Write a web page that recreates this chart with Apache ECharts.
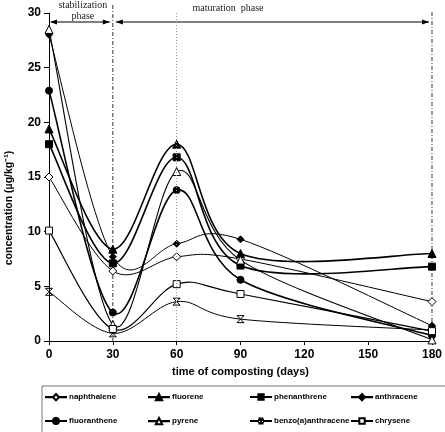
<!DOCTYPE html>
<html>
<head>
<meta charset="utf-8">
<script src="https://cdn.jsdelivr.net/npm/echarts@6/dist/echarts.min.js"></script>
<style>
  html, body { margin: 0; padding: 0; background: #fff; }
  #main { width: 445px; height: 432px; }
</style>
</head>
<body>
<div id="main"></div>
<script>
// days of composting and PAH concentrations (µg/kg)
var days = [0, 30, 60, 90, 180];
var naphthalene = [15.0, 6.4, 7.7, 7.5, 3.6];
var fluorene = [19.4, 8.4, 18.0, 8.0, 8.0];
var phenanthrene = [18.0, 7.1, 16.8, 6.9, 6.8];
var anthracene = [28.0, 7.7, 8.9, 9.3, 1.4];
var fluoranthene = [22.9, 2.6, 13.8, 5.6, 0.5];
var pyrene = [28.5, 1.5, 15.5, 7.4, 0.1];
var benzoAnthracene = [4.5, 0.7, 3.6, 2.0, 1.0];
var chrysene = [10.1, 1.1, 5.2, 4.3, 0.9];

var phaseBounds = [0, 30, 180];

var crossPath = 'path://M0,0 L10,10 M10,0 L0,10 M0,0 L10,0 M0,10 L10,10';

// legend icons: short line with the marker in the middle
var legLine = 'M0,3.9 L7,3.9 L7,4.1 L0,4.1 Z M13,3.9 L20,3.9 L20,4.1 L13,4.1 Z ';
var legIcon = {
    diamond: 'path://' + legLine + 'M10,0.8 L13,4 L10,7.2 L7,4 Z',
    triangle: 'path://' + legLine + 'M10,0.8 L13.2,7 L6.8,7 Z',
    rect: 'path://' + legLine + 'M7.3,1.3 L12.7,1.3 L12.7,6.7 L7.3,6.7 Z',
    circle: 'path://' + legLine + 'M7,4 A3,3 0 1 0 13,4 A3,3 0 1 0 7,4 Z',
    cross: 'path://' + legLine + 'M7.5,1.5 L12.5,6.5 M12.5,1.5 L7.5,6.5 M7.5,1.5 L12.5,1.5 M7.5,6.5 L12.5,6.5'
};

function pairs(vals) {
    var out = [];
    for (var i = 0; i < days.length; i++) out.push([days[i], vals[i]]);
    return out;
}

// spreadsheet-style smoothed line: one bezier piece per interval, through the axis scale
function curve(vals, width) {
    var pts = pairs(vals);
    return {
        type: 'custom',
        data: pts.slice(0, pts.length - 1),
        silent: true,
        z: 2,
        renderItem: function (params, api) {
            var i = params.dataIndex;
            var p = function (k) {
                k = Math.max(0, Math.min(pts.length - 1, k));
                return api.coord(pts[k]);
            };
            var p0 = p(i - 1), p1 = p(i), p2 = p(i + 1), p3 = p(i + 2);
            return {
                type: 'bezierCurve',
                shape: {
                    x1: p1[0], y1: p1[1],
                    cpx1: p1[0] + (p2[0] - p0[0]) / 6, cpy1: p1[1] + (p2[1] - p0[1]) / 6,
                    cpx2: p2[0] - (p3[0] - p1[0]) / 6, cpy2: p2[1] - (p3[1] - p1[1]) / 6,
                    x2: p2[0], y2: p2[1]
                },
                style: { stroke: '#000', lineWidth: width, fill: null }
            };
        }
    };
}

function marks(name, vals, symbol, size, filled) {
    return {
        name: name,
        type: 'scatter',
        data: pairs(vals),
        symbol: symbol,
        symbolSize: size,
        itemStyle: {
            color: filled ? '#000' : (symbol == crossPath ? 'rgba(0,0,0,0)' : '#fff'),
            borderColor: '#000',
            borderWidth: 1,
            opacity: 1
        },
        emphasis: { disabled: true },
        z: 3
    };
}

var specs = [
    ['naphthalene', naphthalene, 'diamond', 8, false, 1, 'diamond'],
    ['fluorene', fluorene, 'triangle', 8, true, 1.6, 'triangle'],
    ['phenanthrene', phenanthrene, 'rect', 7, true, 1.6, 'rect'],
    ['anthracene', anthracene, 'diamond', 7, true, 1, 'diamond'],
    ['fluoranthene', fluoranthene, 'circle', 7, true, 1.6, 'circle'],
    ['pyrene', pyrene, 'triangle', 8, false, 1.1, 'triangle'],
    ['benzo(a)anthracene', benzoAnthracene, crossPath, 7, false, 1, 'cross'],
    ['chrysene', chrysene, 'rect', 7, false, 1.2, 'rect']
];

var series = [];
specs.forEach(function (s) {
    series.push(curve(s[1], s[5]));
    series.push(marks(s[0], s[1], s[2], s[3], s[4]));
});

// dotted line at day 60
series.push({
    type: 'line',
    data: [],
    silent: true,
    markLine: {
        silent: true,
        symbol: ['none', 'none'],
        label: { show: false },
        animation: false,
        data: [
            { xAxis: 60, lineStyle: { color: '#999', type: [1, 2], width: 1 } }
        ]
    }
});

// legend: 2 rows x 4 columns
var legendCols = [45, 148, 250, 351];
var legendRows = [393, 417];
var legends = specs.map(function (s, i) {
    return {
        data: [{ name: s[0], icon: legIcon[s[6]] }],
        left: legendCols[i % 4],
        top: legendRows[Math.floor(i / 4)],
        padding: 0,
        itemWidth: 20, itemHeight: 8, itemGap: 0,
        selectedMode: false,
        textStyle: { fontFamily: 'Arial, Liberation Sans', fontSize: 8, fontWeight: 'bold', color: '#000', padding: [0, 0, 0, -2] }
    };
});

var myChart = echarts.init(document.getElementById('main'));
var option = {
    animation: false,
    backgroundColor: '#fff',
    grid: { left: 49, right: 13, top: 13, bottom: 91 },
    xAxis: {
        type: 'value',
        min: 0,
        max: 180,
        interval: 30,
        name: 'time of composting (days)',
        nameLocation: 'middle',
        nameGap: 25,
        nameTextStyle: { fontFamily: 'Arial, Liberation Sans', fontSize: 11, fontWeight: 'bold', color: '#000' },
        axisLine: { lineStyle: { color: '#000' } },
        axisTick: { show: true, length: 4, lineStyle: { color: '#000' } },
        axisLabel: { fontFamily: 'Arial, Liberation Sans', fontSize: 12, fontWeight: 'bold', color: '#000', margin: 8 },
        splitLine: { show: false }
    },
    yAxis: {
        type: 'value',
        min: 0,
        max: 30,
        interval: 5,
        axisLine: { show: true, lineStyle: { color: '#000' } },
        axisTick: { show: true, length: 5, lineStyle: { color: '#000' } },
        axisLabel: { fontFamily: 'Arial, Liberation Sans', fontSize: 12, fontWeight: 'bold', color: '#000', margin: 8 },
        splitLine: { show: false }
    },
    legend: legends,
    series: series
};
myChart.setOption(option);

// annotations placed through the chart's own scale
var topY = myChart.convertToPixel({ gridIndex: 0 }, [0, 30])[1];
var botY = myChart.convertToPixel({ gridIndex: 0 }, [0, 0])[1];
var arrowY = topY + 9;
var px = phaseBounds.map(function (d) { return myChart.convertToPixel({ gridIndex: 0 }, [d, 0])[0]; });

function arrowHead(x, y, dir) {
    return {
        type: 'polygon',
        shape: { points: [[x, y], [x - dir * 7, y - 2.5], [x - dir * 7, y + 2.5]] },
        style: { fill: '#000' }
    };
}

var graphics = [
    { type: 'line', shape: { x1: px[1], y1: 5, x2: px[1], y2: botY }, style: { stroke: '#333', lineWidth: 1, lineDash: [4, 2, 1, 2] } },
    { type: 'line', shape: { x1: px[2], y1: 12, x2: px[2], y2: botY }, style: { stroke: '#333', lineWidth: 1, lineDash: [4, 2, 1, 2] } },
    { type: 'line', shape: { x1: px[0] + 2, y1: arrowY, x2: px[1] - 3, y2: arrowY }, style: { stroke: '#000', lineWidth: 1 } },
    arrowHead(px[0] + 1, arrowY, -1),
    arrowHead(px[1] - 3, arrowY, 1),
    { type: 'line', shape: { x1: px[1] + 3, y1: arrowY, x2: px[2] - 3, y2: arrowY }, style: { stroke: '#000', lineWidth: 1 } },
    arrowHead(px[1] + 3, arrowY, -1),
    arrowHead(px[2] - 3, arrowY, 1),
    { type: 'text', x: (px[0] + px[1]) / 2 + 2, y: 0, style: { text: 'stabilization\nphase', fill: '#222', font: '10px "Liberation Serif", serif', align: 'center', lineHeight: 11 } },
    { type: 'text', x: 228, y: 3, style: { text: 'maturation  phase', fill: '#222', font: '10px "Liberation Serif", serif', align: 'center' } },
    { type: 'text', x: 9, y: 208, rotation: Math.PI / 2,
      style: { text: 'concentration (µg/kg⁻¹)', fill: '#000', font: 'bold 10.5px Arial, "Liberation Sans"', align: 'center', verticalAlign: 'middle' } },
    { type: 'rect', shape: { x: 42, y: 386, width: 420, height: 60 }, style: { fill: 'none', stroke: '#777', lineWidth: 1 }, z: -1 }
];
myChart.setOption({ graphic: graphics });
</script>
</body>
</html>
